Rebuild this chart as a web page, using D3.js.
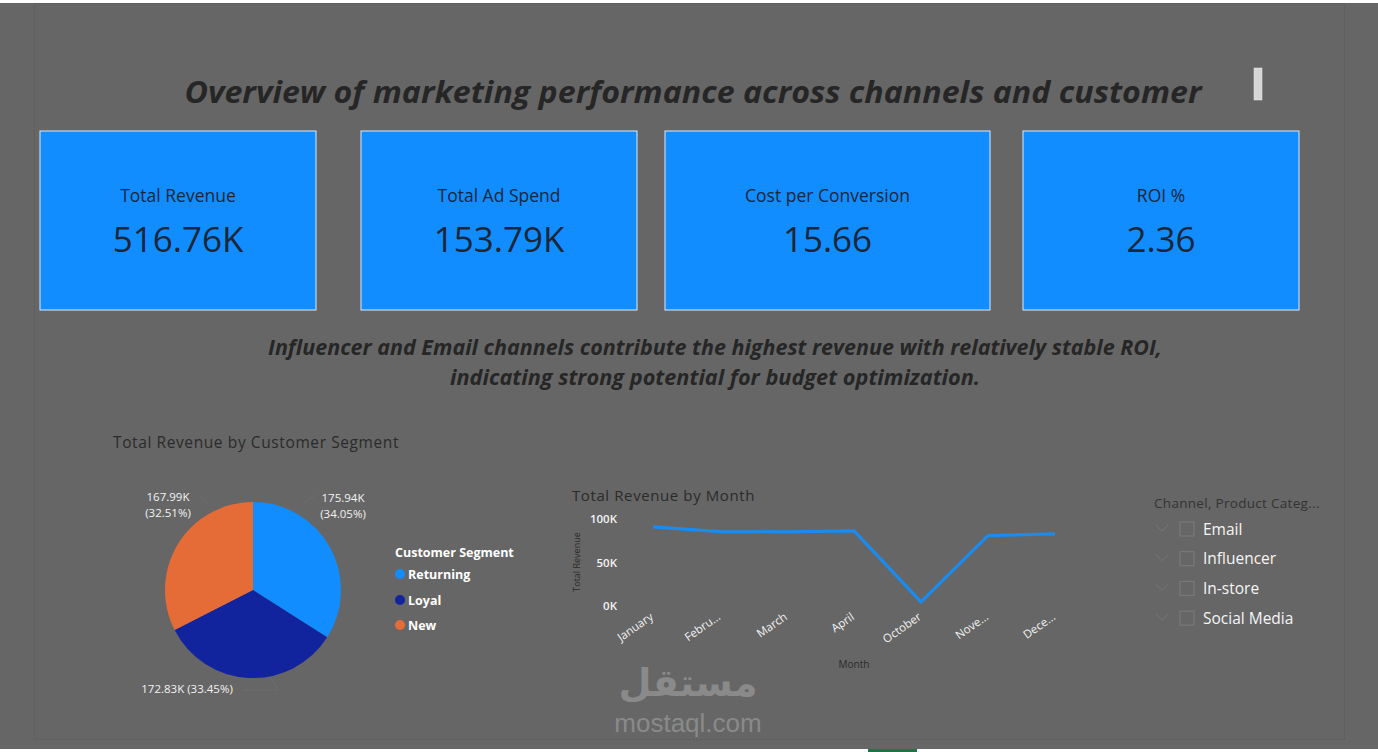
<!DOCTYPE html>
<html>
<head>
<meta charset="utf-8">
<script src="https://cdn.jsdelivr.net/npm/d3@7"></script>
<style>
  body { margin: 0; background: #ffffff; overflow: hidden; }
  svg { display: block; }
</style>
</head>
<body>
<div id="chart"></div>
<script>
    var width = 1378, height = 752;

    // KPI cards
    var kpiLabels = ["Total Revenue", "Total Ad Spend", "Cost per Conversion", "ROI %"];
    var kpiValues = ["516.76K", "153.79K", "15.66", "2.36"];

    // pie: revenue by customer segment (K) and shown shares (%)
    var segments = ["Returning", "Loyal", "New"];
    var segmentRevenue = [175.94, 172.83, 167.99];
    var segmentShare = [34.05, 33.45, 32.51];
    var segmentColors = ["#118DFF", "#12239E", "#E66C37"];

    // line: revenue by month (K)
    var months = ["January", "Febru...", "March", "April", "October", "Nove...", "Dece..."];
    var monthRevenue = [91, 85.5, 85.3, 86.4, 4.8, 80.8, 83];
    var yTicks = [0, 50, 100];

    // slicer
    var channels = ["Email", "Influencer", "In-store", "Social Media"];

    var uiFont = "'Open Sans', 'Noto Sans', sans-serif";

    var svg = d3.select("#chart")
                .append("svg")
                .attr("width", width)
                .attr("height", height);

    // canvas
    svg.append("rect").attr("x", 0).attr("y", 3).attr("width", width).attr("height", 746)
       .attr("fill", "#666666");
    svg.append("rect").attr("x", 34.5).attr("y", 3.5).attr("width", 1310).attr("height", 736)
       .attr("fill", "none").attr("stroke", "#5a5a5a").attr("stroke-dasharray", "2,2");
    svg.append("rect").attr("x", 868).attr("y", 749).attr("width", 49).attr("height", 3)
       .attr("fill", "#217346");

    // title
    svg.append("text")
       .attr("x", 693).attr("y", 103)
       .attr("text-anchor", "middle")
       .attr("font-family", uiFont)
       .attr("font-weight", 700).attr("font-style", "italic")
       .attr("font-size", 31)
       .attr("textLength", 1017).attr("lengthAdjust", "spacingAndGlyphs")
       .attr("fill", "#262626")
       .text("Overview of marketing performance across channels and customer");

    svg.append("rect").attr("x", 1254).attr("y", 68).attr("width", 8).attr("height", 32)
       .attr("fill", "#d6d6d6").attr("stroke", "#eeeeee").attr("stroke-width", 0.5);

    // KPI cards
    var cardX = [40, 361, 665, 1023];
    var cardW = [276, 276, 325, 276];
    var cards = svg.selectAll("g.card")
       .data(kpiLabels)
       .enter()
       .append("g")
       .attr("class", "card")
       .attr("transform", function(d, i) { return "translate(" + cardX[i] + ",131)"; });

    cards.append("rect")
       .attr("width", function(d, i) { return cardW[i]; })
       .attr("height", 179)
       .attr("fill", "#118DFF")
       .attr("stroke", "#dfe9f5").attr("stroke-width", 1);

    cards.append("text")
       .attr("x", function(d, i) { return cardW[i] / 2; })
       .attr("y", 71)
       .attr("text-anchor", "middle")
       .attr("font-family", uiFont)
       .attr("font-size", 17.5)
       .attr("fill", "#1b2636")
       .text(function(d) { return d; });

    cards.append("text")
       .attr("x", function(d, i) { return cardW[i] / 2; })
       .attr("y", 121)
       .attr("text-anchor", "middle")
       .attr("font-family", uiFont)
       .attr("font-size", 35)
       .attr("fill", "#1b2636")
       .text(function(d, i) { return kpiValues[i]; });

    // insight text
    var insight = ["Influencer and Email channels contribute the highest revenue with relatively stable ROI,",
                   "indicating strong potential for budget optimization."];
    var insightLen = [894, 530];
    svg.selectAll("text.insight")
       .data(insight)
       .enter()
       .append("text")
       .attr("class", "insight")
       .attr("x", 715)
       .attr("y", function(d, i) { return 355 + i * 30; })
       .attr("text-anchor", "middle")
       .attr("font-family", uiFont)
       .attr("font-weight", 700).attr("font-style", "italic")
       .attr("font-size", 21)
       .attr("textLength", function(d, i) { return insightLen[i]; })
       .attr("lengthAdjust", "spacingAndGlyphs")
       .attr("fill", "#262626")
       .text(function(d) { return d; });

    // ---- pie chart ----
    svg.append("text")
       .attr("x", 113).attr("y", 448)
       .attr("font-family", uiFont).attr("font-size", 15.5)
       .attr("letter-spacing", 0.6)
       .attr("fill", "#2b2b2b")
       .text("Total Revenue by Customer Segment");

    var pieData = d3.pie().sort(null)(segmentRevenue);
    var arc = d3.arc().innerRadius(0).outerRadius(88);
    var pieG = svg.append("g").attr("transform", "translate(253,590)");
    pieG.selectAll("path")
       .data(pieData)
       .enter()
       .append("path")
       .attr("d", arc)
       .attr("fill", function(d, i) { return segmentColors[i]; });

    // label anchor positions relative to pie centre
    var labelPos = [[90, -88, "middle", 2], [-66, 103, "middle", 1], [-85, -89, "middle", 2]];
    var lineEnds = [[[50, -86], [62, -95]], [[18, 88], [25, 100], [-10, 100]], [[-45, -86], [-55, -95]]];
    pieG.selectAll("polyline")
       .data(pieData)
       .enter()
       .append("polyline")
       .attr("points", function(d, i) { return lineEnds[i].map(function(p) { return p.join(","); }).join(" "); })
       .attr("fill", "none").attr("stroke", "#707070").attr("stroke-width", 0.8);

    pieData.forEach(function(d, i) {
        var val = d3.format(".2f")(segmentRevenue[i]) + "K";
        var pct = "(" + d3.format(".2f")(segmentShare[i]) + "%)";
        var t = pieG.append("text")
           .attr("x", labelPos[i][0]).attr("y", labelPos[i][1])
           .attr("text-anchor", labelPos[i][2])
           .attr("font-family", uiFont).attr("font-size", 11.5)
           .attr("fill", "#f2f2f2");
        if (labelPos[i][3] === 2) {
            t.append("tspan").attr("x", labelPos[i][0]).text(val);
            t.append("tspan").attr("x", labelPos[i][0]).attr("dy", 16).text(pct);
        } else {
            t.text(val + " " + pct);
        }
    });

    // legend
    svg.append("text")
       .attr("x", 395).attr("y", 557)
       .attr("font-family", uiFont).attr("font-weight", 700).attr("font-size", 12.5)
       .attr("fill", "#ffffff")
       .text("Customer Segment");
    var leg = svg.selectAll("g.leg")
       .data(segments)
       .enter()
       .append("g")
       .attr("class", "leg")
       .attr("transform", function(d, i) { return "translate(400," + [574, 600, 625][i] + ")"; });
    leg.append("circle").attr("r", 5).attr("fill", function(d, i) { return segmentColors[i]; });
    leg.append("text")
       .attr("x", 8).attr("y", 4.5)
       .attr("font-family", uiFont).attr("font-weight", 700).attr("font-size", 12.5)
       .attr("fill", "#ffffff")
       .text(function(d) { return d; });

    // ---- line chart ----
    svg.append("text")
       .attr("x", 572).attr("y", 501)
       .attr("font-family", uiFont).attr("font-size", 15)
       .attr("letter-spacing", 0.6)
       .attr("fill", "#2b2b2b")
       .text("Total Revenue by Month");

    var x = d3.scalePoint().domain(months).range([653, 1055]);
    var y = d3.scaleLinear().domain([0, 100]).range([606, 519]);

    var yAxis = svg.append("g")
       .attr("transform", "translate(620,0)")
       .call(d3.axisLeft(y).tickValues(yTicks).tickSize(0).tickPadding(3)
             .tickFormat(function(d) { return d + "K"; }));
    yAxis.select(".domain").remove();
    yAxis.selectAll("text")
       .attr("font-family", uiFont).attr("font-size", 11.5).attr("font-weight", 600)
       .attr("fill", "#f2f2f2");

    var xAxis = svg.append("g")
       .attr("transform", "translate(0,612)")
       .call(d3.axisBottom(x).tickSize(0).tickPadding(0));
    xAxis.select(".domain").remove();
    xAxis.selectAll("text")
       .attr("font-family", uiFont).attr("font-size", 11.5)
       .attr("fill", "#f2f2f2")
       .attr("text-anchor", "end")
       .attr("dy", "0.7em")
       .attr("transform", "translate(-4,0) rotate(-35)");

    svg.append("text")
       .attr("transform", "translate(580,562) rotate(-90)")
       .attr("text-anchor", "middle")
       .attr("font-family", uiFont).attr("font-size", 9)
       .attr("fill", "#2b2b2b")
       .text("Total Revenue");
    svg.append("text")
       .attr("x", 854).attr("y", 668)
       .attr("text-anchor", "middle")
       .attr("font-family", uiFont).attr("font-size", 10)
       .attr("fill", "#2b2b2b")
       .text("Month");

    var line = d3.line()
       .x(function(d, i) { return x(months[i]); })
       .y(function(d) { return y(d); });
    svg.append("path")
       .datum(monthRevenue)
       .attr("d", line)
       .attr("fill", "none")
       .attr("stroke", "#1a8cf0")
       .attr("stroke-width", 3.2)
       .attr("stroke-linejoin", "round");

    // ---- slicer ----
    svg.append("text")
       .attr("x", 1154).attr("y", 508)
       .attr("font-family", uiFont).attr("font-size", 13.5)
       .attr("letter-spacing", 0.3)
       .attr("fill", "#333333")
       .text("Channel, Product Categ...");
    var sl = svg.selectAll("g.slicer")
       .data(channels)
       .enter()
       .append("g")
       .attr("class", "slicer")
       .attr("transform", function(d, i) { return "translate(0," + (529 + i * 29.7) + ")"; });
    sl.append("path")
       .attr("d", "M1156,-4 L1162,2 L1168,-4")
       .attr("fill", "none").attr("stroke", "#777777").attr("stroke-width", 1);
    sl.append("rect")
       .attr("x", 1180).attr("y", -7).attr("width", 14).attr("height", 14)
       .attr("fill", "none").attr("stroke", "#7c7c7c").attr("stroke-width", 1);
    sl.append("text")
       .attr("x", 1203).attr("y", 5.5)
       .attr("font-family", uiFont).attr("font-size", 15.5)
       .attr("fill", "#f5f5f5")
       .text(function(d) { return d; });

    // watermark
    svg.append("text")
       .attr("x", 688).attr("y", 696)
       .attr("text-anchor", "middle")
       .attr("font-family", "'DejaVu Sans', sans-serif").attr("font-weight", 700).attr("font-size", 38)
       .attr("fill", "#8a8a8a")
       .text("مستقل");
    svg.append("text")
       .attr("x", 688).attr("y", 732)
       .attr("text-anchor", "middle")
       .attr("font-family", "'Liberation Sans', sans-serif").attr("font-size", 26)
       .attr("fill", "#8a8a8a")
       .text("mostaql.com");
</script>
</body>
</html>
